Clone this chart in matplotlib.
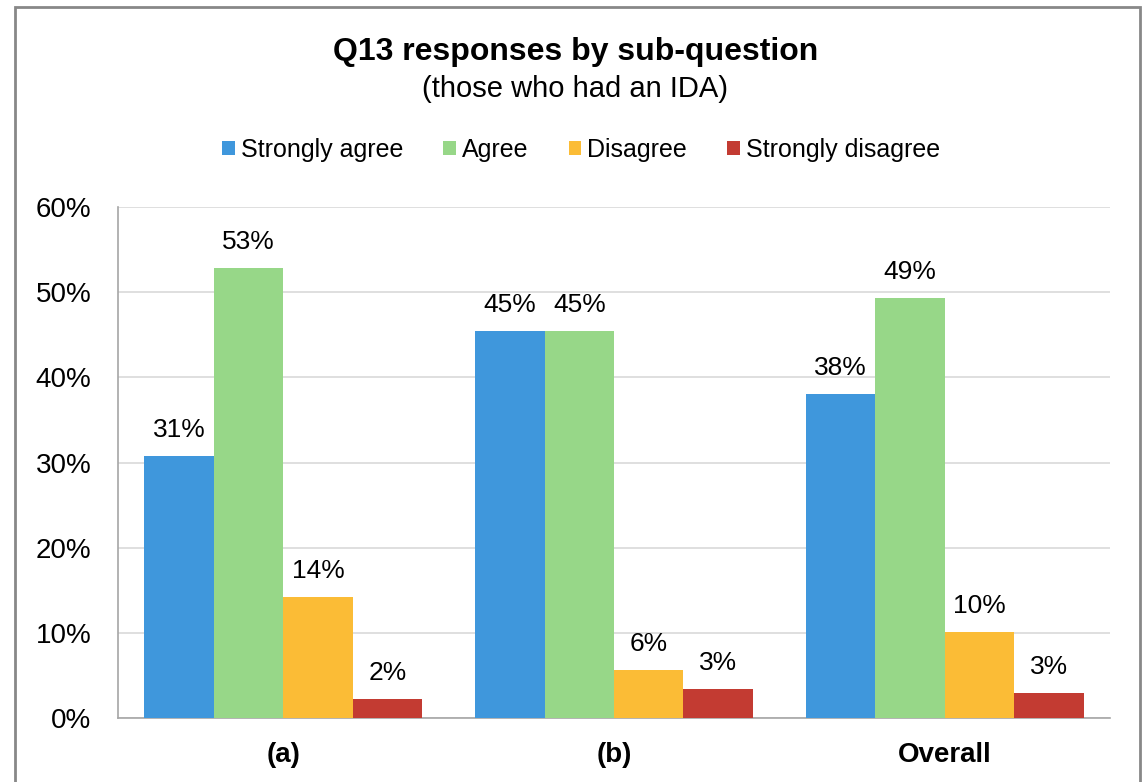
import numpy as np
import matplotlib.pyplot as plt
from matplotlib.patches import Rectangle

plt.rcParams['font.family'] = ['Liberation Sans', 'DejaVu Sans']

# dane
kategorie = ['(a)', '(b)', 'Overall']
serie = ['Strongly agree', 'Agree', 'Disagree', 'Strongly disagree']
strongly_agree = [30.8, 45.4, 38.0]
agree = [52.8, 45.4, 49.3]
disagree = [14.2, 5.6, 10.1]
strongly_disagree = [2.2, 3.4, 2.9]
etykiety = [['31%', '45%', '38%'], ['53%', '45%', '49%'],
            ['14%', '6%', '10%'], ['2%', '3%', '3%']]
kolory = ['#3F97DC', '#97D788', '#FBBC36', '#C33B32']

wartosci = [strongly_agree, agree, disagree, strongly_disagree]

fig = plt.figure(figsize=(11.44, 7.82), dpi=100)
ax = fig.add_axes([0.1031, 0.0818, 0.8672, 0.6535])

x = np.arange(len(kategorie))
szer = 0.21
for i, (nazwa, w) in enumerate(zip(serie, wartosci)):
    pozycje = x + (i - 1.5) * szer
    bary = ax.bar(pozycje, w, width=szer, color=kolory[i], label=nazwa, zorder=3)
    for b, txt in zip(bary, etykiety[i]):
        ax.annotate(txt, (b.get_x() + b.get_width() / 2, b.get_height()),
                    xytext=(0, 10), textcoords='offset points',
                    ha='center', va='bottom', fontsize=19)

ax.set_xlim(-0.5, 2.5)
ax.set_ylim(0, 60)
ax.set_yticks(range(0, 61, 10))
ax.set_yticklabels([f'{v}%' for v in range(0, 61, 10)], fontsize=20)
ax.set_xticks(x)
ax.set_xticklabels(kategorie, fontsize=20, fontweight='bold')
ax.tick_params(axis='y', length=0, pad=19)
ax.tick_params(axis='x', length=0, pad=17)
ax.yaxis.grid(True, color='#D9D9D9', linewidth=1.2, zorder=0)
ax.set_axisbelow(True)
for s in ['top', 'right']:
    ax.spines[s].set_visible(False)
for s in ['left', 'bottom']:
    ax.spines[s].set_color('#A6A6A6')
    ax.spines[s].set_linewidth(1.2)

fig.text(0.503, 0.934, 'Q13 responses by sub-question', ha='center', va='center',
         fontsize=23, fontweight='bold')
fig.text(0.503, 0.886, '(those who had an IDA)', ha='center', va='center', fontsize=21)

fig.legend(loc='center', bbox_to_anchor=(0.508, 0.808), ncol=4, frameon=False,
           fontsize=18, handlelength=0.5, handleheight=0.5, handletextpad=0.25,
           columnspacing=1.6)

# ramka wykresu
fig.patches.append(Rectangle((15 / 1144, -0.05), 1125 / 1144, 1 - 7 / 782 + 0.05,
                             transform=fig.transFigure, fill=False,
                             edgecolor='#888888', linewidth=2, clip_on=False))

fig.savefig('out.png', dpi=100)
